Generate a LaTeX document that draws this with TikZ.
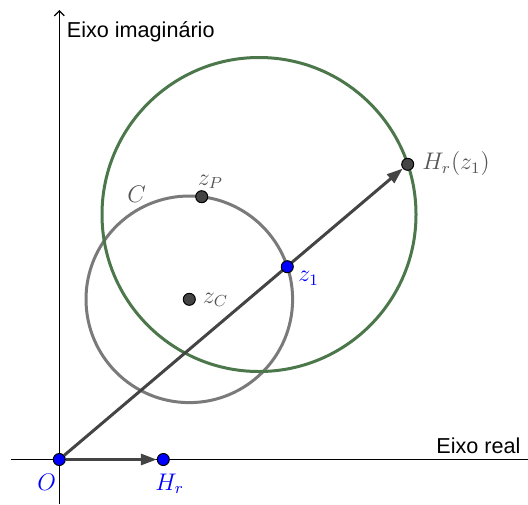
\documentclass[tikz,border=0pt]{standalone}
\usepackage{fontspec}
\newfontfamily\axisfont{Liberation Sans}
\usetikzlibrary{positioning,arrows.meta,backgrounds}
\definecolor{imagegreen}{HTML}{4B774B}
\definecolor{circlegray}{HTML}{7A7A7A}
\definecolor{vecgray}{HTML}{444444}
\definecolor{labelgray}{HTML}{555555}
\definecolor{ptblue}{HTML}{0000FF}

\begin{document}
\begin{tikzpicture}[
  x=0.5pt, y=-0.5pt,
  ptdot/.style={circle, draw=black, line width=0.5pt, inner sep=0pt, minimum size=6pt},
  bluept/.style={ptdot, fill=ptblue},
  graypt/.style={ptdot, fill=vecgray},
  lbl/.style={inner sep=0pt, anchor=base west, font=\fontsize{12}{14}\selectfont},
  axislbl/.style={inner sep=0pt, anchor=base west, font=\axisfont\fontsize{10.8}{13}\selectfont},
  axisline/.style={line width=0.6pt},
  vec/.style={-{Triangle[length=8pt, width=5.5pt]}, line width=1.5pt, vecgray},
  circ/.style={line width=1.5pt},
]
\useasboundingbox (0,0) rectangle (528,504);

% Points of the plane.
\node[bluept] (O) at (59.3,459.5) {};
\node[bluept] (Hr) at (163.3,459.5) {};
\node[bluept] (z1) at (287.3,266.7) {};
\node[graypt] (Hrz1) at (407.7,164.3) {};
\node[graypt] (zP) at (201.7,196.7) {};
\node[graypt] (zC) at (189.3,299.3) {};
\coordinate (gc) at (259,214.5);

% Axes, circles and vectors go behind the points.
\begin{scope}[on background layer]
  \coordinate (xl) at (11,459.5);
  \coordinate (xr) at (528,459.5);
  \coordinate (yb) at (59.3,504);
  \coordinate (yt) at (59.3,10);
  \draw[axisline] (xl) -- (xr);
  \draw[axisline, -{Straight Barb[length=2.5pt, width=5pt]}] (yb) -- (yt);
  \draw[circ, circlegray] (zC) circle[radius=103.3];
  \draw[circ, imagegreen] (gc) circle[radius=157];
  \draw[vec] (O) -- (Hr);
  \draw[vec] (O) -- (Hrz1);
\end{scope}

% Labels.
\node[axislbl] (yname) at (66.5,37) {Eixo imagin\'ario};
\node[axislbl] (xname) at (436,453) {Eixo real};
\node[lbl, text=ptblue] (Olbl) at (37,490) {$O$};
\node[lbl, text=ptblue] (Hrlbl) at (155,490) {$H_r$};
\node[lbl, text=ptblue] (z1lbl) at (298,281.5) {$z_1$};
\node[lbl, text=labelgray] (Hrz1lbl) at (422,169.5) {$H_r(z_1)$};
\node[lbl, text=labelgray] (zPlbl) at (197.5,185) {$z_P$};
\node[lbl, text=labelgray] (zClbl) at (202.5,303.3) {$z_C$};
\node[lbl, text=labelgray] (Clbl) at (127,202) {$C$};

\end{tikzpicture}
\end{document}
